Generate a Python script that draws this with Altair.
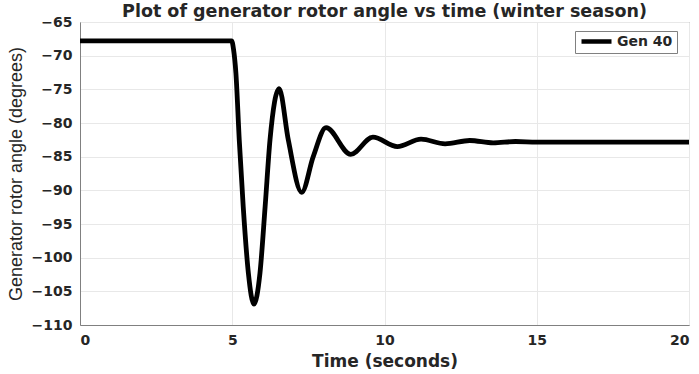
import altair as alt
import pandas as pd

# Time (s) and rotor angle (deg)
time_s = [0, 4.98, 5.04, 5.12, 5.23, 5.36, 5.53, 5.71, 5.91, 6.08, 6.24, 6.54,
          6.84, 7.28, 7.66, 8.08, 8.89, 9.62, 10.42, 11.2, 11.99, 12.8, 13.57,
          14.3, 15.0, 20]
angle_deg = [-67.8, -67.8, -69.0, -72.6, -82.5, -92.4, -102.3, -106.9, -102.3,
             -92.4, -82.5, -74.9, -82.5, -90.3, -85.0, -80.7, -84.65, -82.1,
             -83.5, -82.4, -83.1, -82.6, -82.95, -82.75, -82.85, -82.85]
series_name = "Gen 40"

x_ticks = [0, 5, 10, 15, 20]
y_ticks = [-65, -70, -75, -80, -85, -90, -95, -100, -105, -110]

df = pd.DataFrame({"t": time_s, "v": angle_deg, "s": [series_name] * len(time_s)})

WIDE = "DejaVu Sans"
NARROW = "Liberation Sans"
TXT = "#262626"

chart = alt.Chart(df).mark_line(strokeWidth=4.8, interpolate="monotone").encode(
    x=alt.X("t:Q", scale=alt.Scale(domain=[0, 20], nice=False),
            axis=alt.Axis(values=x_ticks, title="Time (seconds)", format="d",
                          labelFont=WIDE, titleFont=WIDE,
                          labelFontWeight="bold", labelFontSize=14, labelColor=TXT,
                          titleFontWeight="bold", titleFontSize=17, titleColor=TXT,
                          labelPadding=8, titlePadding=6, tickSize=0,
                          domainColor="#808080", gridColor="#e8e8e8")),
    y=alt.Y("v:Q", scale=alt.Scale(domain=[-110, -65], nice=False),
            axis=alt.Axis(values=y_ticks, title="Generator rotor angle (degrees)", format="d",
                          labelFont=WIDE, titleFont=NARROW,
                          labelFontWeight="bold", labelFontSize=14, labelColor=TXT,
                          titleFontWeight="normal", titleFontSize=18, titleColor=TXT,
                          labelPadding=8, titlePadding=6, tickSize=0,
                          domainColor="#808080", gridColor="#e8e8e8")),
    color=alt.Color("s:N", scale=alt.Scale(domain=[series_name], range=["black"]),
                    legend=alt.Legend(title=None, orient="none", legendX=495, legendY=9,
                                      symbolType="stroke", symbolSize=900,
                                      symbolStrokeWidth=4.5, labelFontSize=14,
                                      labelFont=WIDE,
                                      labelFontWeight="bold", labelColor=TXT,
                                      strokeColor="#808080", fillColor="white",
                                      padding=4, labelOffset=3, clipHeight=13)),
).properties(
    width=609, height=303,
    title=alt.TitleParams("Plot of generator rotor angle vs time (winter season)",
                          fontSize=17.5, fontWeight="bold", color=TXT, font=WIDE,
                          offset=0, frame="group", baseline="bottom", dy=23),
    autosize=alt.AutoSizeParams(type="none"),
    padding={"left": 80, "top": 22, "right": 10, "bottom": 49},
).configure_view(stroke="#808080")

chart.save("out.html", embed_options={"renderer": "svg", "actions": False})
